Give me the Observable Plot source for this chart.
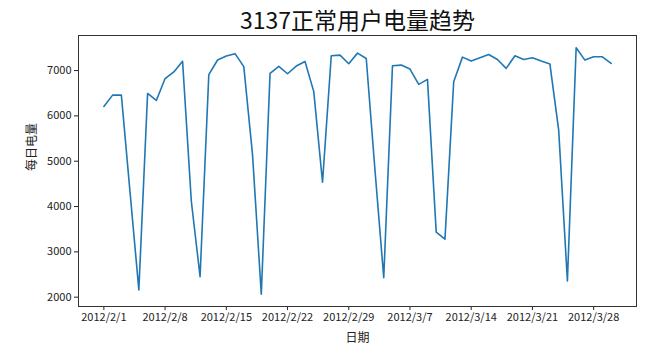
<!DOCTYPE html>
<html>
<head>
<meta charset="utf-8">
<script src="https://cdn.jsdelivr.net/npm/d3@7"></script>
<script src="https://cdn.jsdelivr.net/npm/@observablehq/plot@0.6"></script>
<style>
  html, body { margin: 0; padding: 0; background: #fff; }
  #chart svg { display: block; }
</style>
</head>
<body>
<div id="chart"></div>
<script>
const title = "3137正常用户电量趋势";
const xLabel = "日期";
const yLabel = "每日电量";
const startDate = "2012-02-01";
const endDate = "2012-03-30";
const values = [
  6209, 6458, 6458, 4300, 2161, 6495, 6341, 6824, 6971, 7205,
  4116, 2454, 6912, 7234, 7322, 7373, 7088, 5140, 2066, 6938,
  7092, 6930, 7099, 7201, 6535, 4535, 7326, 7341, 7150, 7385,
  7267, 4800, 2432, 7106, 7121, 7033, 6696, 6806, 3436, 3280,
  6755, 7297, 7209, 7282, 7355, 7245, 7048, 7326, 7245, 7282,
  7209, 7143, 5692, 2359, 7502, 7231, 7304, 7304, 7158
];
const xTickLabels = ["2012/2/1","2012/2/8","2012/2/15","2012/2/22","2012/2/29","2012/3/7","2012/3/14","2012/3/21","2012/3/28"];
const yTicks = [2000, 3000, 4000, 5000, 6000, 7000];

const parse = s => { const [y, m, d] = s.split("/").map(Number); return new Date(Date.UTC(y, m - 1, d)); };
const fmt = d => `${d.getUTCFullYear()}/${d.getUTCMonth() + 1}/${d.getUTCDate()}`;
const start = new Date(startDate + "T00:00:00Z");
const dates = d3.utcDay.range(start, d3.utcDay.offset(new Date(endDate + "T00:00:00Z"), 1));
const data = dates.map((date, i) => ({date, value: values[i]}));

const span = dates[dates.length - 1] - dates[0];
const pad = span * 0.05;
const xDomain = [new Date(+dates[0] - pad), new Date(+dates[dates.length - 1] + pad)];
const yMin = d3.min(values), yMax = d3.max(values);
const yPad = (yMax - yMin) * 0.05;

const font = "'Noto Sans CJK SC', 'DejaVu Sans', sans-serif";

const chart = Plot.plot({
  width: 671,
  height: 354,
  marginLeft: 78,
  marginRight: 35,
  marginTop: 35,
  marginBottom: 48,
  style: { fontFamily: font, fontSize: "11px", color: "#222", background: "#fff" },
  x: { type: "utc", domain: xDomain, ticks: xTickLabels.map(parse), tickFormat: fmt, tickSize: 4, tickPadding: 3, label: null },
  y: { domain: [yMin - yPad, yMax + yPad], ticks: yTicks, tickFormat: d => String(d), tickSize: 4, tickPadding: 3, label: null },
  marks: [
    Plot.frame({ stroke: "#333", strokeWidth: 1 }),
    Plot.line(data, { x: "date", y: "value", stroke: "#1f77b4", strokeWidth: 1.6 }),
    Plot.text([title], { frameAnchor: "top", dy: -14, fontSize: 23, fill: "#111", lineAnchor: "middle" }),
    Plot.text([xLabel], { frameAnchor: "bottom", dy: 32, fontSize: 12, fill: "#222", lineAnchor: "middle" }),
    Plot.text([yLabel], { frameAnchor: "left", dx: -46, rotate: -90, fontSize: 12, fill: "#222", lineAnchor: "middle" })
  ]
});
document.getElementById("chart").appendChild(chart);
</script>
</body>
</html>
